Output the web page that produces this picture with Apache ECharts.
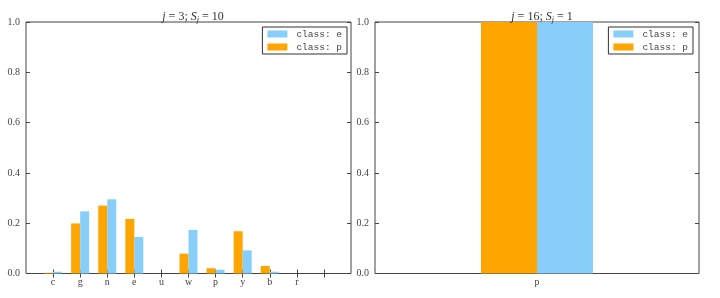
<!DOCTYPE html>
<html><head><meta charset="utf-8">
<script src="https://cdn.jsdelivr.net/npm/echarts@6/dist/echarts.min.js"></script>
<style>html,body{margin:0;padding:0;background:#fff}#c{width:720px;height:298px}</style>
</head><body><div id="c"></div>
<script>
// Left panel: j = 3
const leftCategories = ['', 'c', 'g', 'n', 'e', 'u', 'w', 'p', 'y', 'b', 'r', '', ''];
const leftClassP = [null, 0.003, 0.199, 0.270, 0.217, 0, 0.079, 0.021, 0.168, 0.030, 0, null, null];
const leftClassE = [null, 0.007, 0.247, 0.295, 0.145, 0, 0.173, 0.015, 0.092, 0.007, 0, null, null];
// Right panel: j = 16
const rightCategories = ['p'];
const rightClassP = [1.0];
const rightClassE = [1.0];
const yTicks = [0.0, 0.2, 0.4, 0.6, 0.8, 1.0];

const ORANGE = '#FFA500', BLUE = '#87CEFA', AX = '#444';
const serif = 'Liberation Serif';

const chart = echarts.init(document.getElementById('c'), null, {renderer: 'canvas'});

function yAxis(gi, pos, labels) {
  return {
    type: 'value', gridIndex: gi, position: pos, min: 0, max: 1, interval: 0.2,
    axisLine: {show: false},
    axisTick: {show: true, inside: true, length: 4, lineStyle: {color: AX}},
    splitLine: {show: false},
    axisLabel: {show: labels, margin: 6, color: '#444', fontFamily: serif, fontSize: 10,
      formatter: v => v.toFixed(1)}
  };
}
const tickFn = (i) => i >= 1 && i <= 11;
const rich = {
  i: {fontStyle: 'italic', fontWeight: 'normal', fontFamily: serif, fontSize: 12, color: '#333'},
  n: {fontWeight: 'normal', fontFamily: serif, fontSize: 12, color: '#333'},
  sub: {fontStyle: 'italic', fontWeight: 'normal', fontFamily: serif, fontSize: 8, color: '#333', verticalAlign: 'bottom', padding: [6, 0, 0, 0]}
};

chart.setOption({
  animation: false,
  title: [
    {text: '{i|j}{n| = 3; }{i|S}{sub|j}{n| = 10}', left: 188, top: 5, textAlign: 'center', textStyle: {fontWeight: 'normal', rich}},
    {text: '{i|j}{n| = 16; }{i|S}{sub|j}{n| = 1}', left: 537, top: 5, textAlign: 'center', textStyle: {fontWeight: 'normal', rich}}
  ],
  legend: [
    {orient: 'vertical', right: 373, top: 27, data: ['class: e', 'class: p'],
     itemWidth: 20, itemHeight: 7, itemGap: 3, padding: [2, 5, 2, 5],
     borderColor: '#333', borderWidth: 1, icon: 'rect',
     textStyle: {fontFamily: 'Liberation Mono', fontSize: 9.5, color: '#444', padding: [0, 0, 0, 4]}},
    {orient: 'vertical', right: 27, top: 27, data: ['class: e', 'class: p'],
     itemWidth: 20, itemHeight: 7, itemGap: 3, padding: [2, 5, 2, 5],
     borderColor: '#333', borderWidth: 1, icon: 'rect',
     textStyle: {fontFamily: 'Liberation Mono', fontSize: 9.5, color: '#444', padding: [0, 0, 0, 4]}}
  ],
  grid: [
    {left: 26, right: 369, top: 22, bottom: 24.5, show: true, borderColor: AX, borderWidth: 1, backgroundColor: 'transparent'},
    {left: 375, right: 21, top: 22, bottom: 24.5, show: true, borderColor: AX, borderWidth: 1, backgroundColor: 'transparent'}
  ],
  xAxis: [
    {type: 'category', gridIndex: 0, data: leftCategories, boundaryGap: false, position: 'bottom',
     axisLine: {show: false},
     axisTick: {show: true, inside: true, length: 4, interval: tickFn, lineStyle: {color: AX}},
     axisLabel: {interval: 0, margin: 4, color: '#444', fontFamily: serif, fontSize: 10}},
    {type: 'category', gridIndex: 0, data: leftCategories, boundaryGap: false, position: 'top',
     axisLine: {show: false},
     axisTick: {show: true, inside: true, length: 4, interval: tickFn, lineStyle: {color: AX}},
     axisLabel: {show: false}},
    {type: 'category', gridIndex: 1, data: rightCategories, position: 'bottom',
     axisLine: {show: false},
     axisTick: {show: false},
     axisLabel: {interval: 0, margin: 4, color: '#444', fontFamily: serif, fontSize: 10}}
  ],
  yAxis: [
    yAxis(0, 'left', true), yAxis(0, 'right', false),
    yAxis(1, 'left', true), yAxis(1, 'right', false)
  ],
  series: [
    {name: 'class: p', type: 'bar', xAxisIndex: 0, yAxisIndex: 0, data: leftClassP, barWidth: 9, barGap: '0%', itemStyle: {color: ORANGE}},
    {name: 'class: e', type: 'bar', xAxisIndex: 0, yAxisIndex: 0, data: leftClassE, barWidth: 9, barGap: '0%', itemStyle: {color: BLUE}},
    {name: 'class: p', type: 'bar', xAxisIndex: 2, yAxisIndex: 2, data: rightClassP, barWidth: 56, barGap: '0%', itemStyle: {color: ORANGE}},
    {name: 'class: e', type: 'bar', xAxisIndex: 2, yAxisIndex: 2, data: rightClassE, barWidth: 56, barGap: '0%', itemStyle: {color: BLUE}}
  ]
});
</script></body></html>
